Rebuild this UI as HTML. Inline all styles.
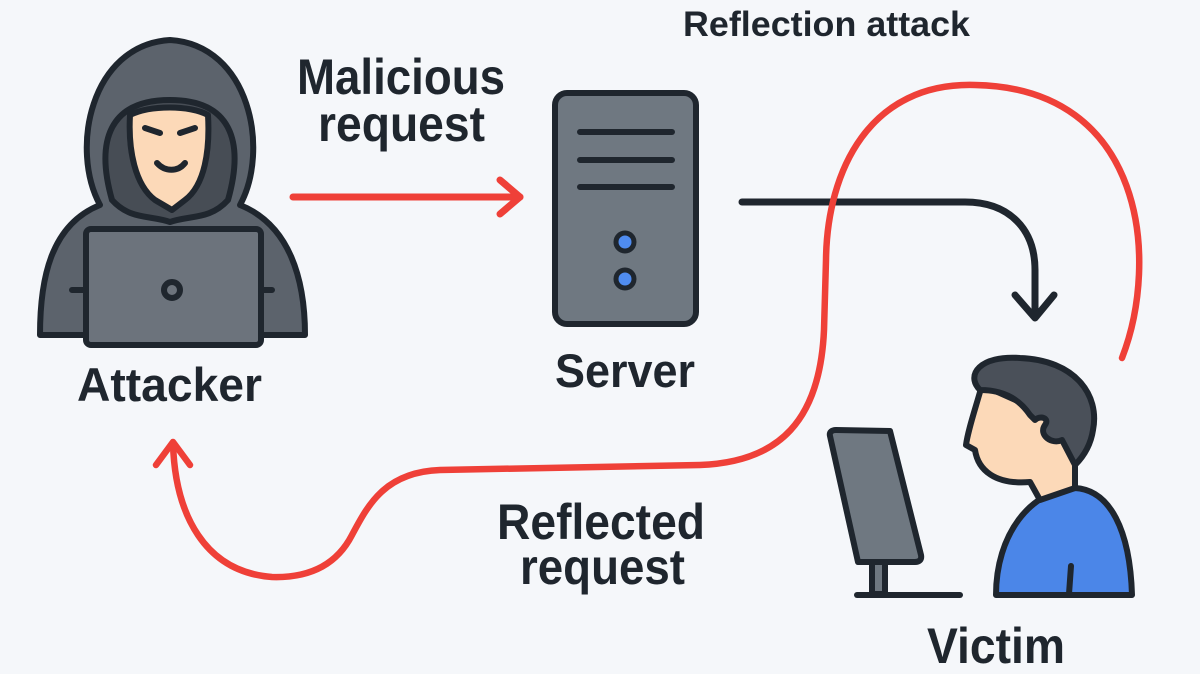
<!DOCTYPE html>
<html><head><meta charset="utf-8"><style>
html,body{margin:0;padding:0;background:#f5f7fa;}
svg{display:block;}
text{font-family:"Liberation Sans",sans-serif;font-weight:bold;fill:#1f262e;}
</style></head><body>
<svg width="1200" height="674" viewBox="0 0 1200 674" xmlns="http://www.w3.org/2000/svg">
<rect width="1200" height="674" fill="#f5f7fa"/>
<!-- labels -->
<text x="683" y="36" font-size="35" textLength="287" lengthAdjust="spacingAndGlyphs" fill="#000">Reflection attack</text>
<text x="297" y="94" font-size="50" textLength="208" lengthAdjust="spacingAndGlyphs">Malicious</text>
<text x="318" y="141" font-size="50" textLength="167" lengthAdjust="spacingAndGlyphs">request</text>
<text x="77" y="401" font-size="47" textLength="185" lengthAdjust="spacingAndGlyphs">Attacker</text>
<text x="555" y="387" font-size="47" textLength="140" lengthAdjust="spacingAndGlyphs">Server</text>
<text x="497" y="539" font-size="50" textLength="208" lengthAdjust="spacingAndGlyphs">Reflected</text>
<text x="520" y="584" font-size="50" textLength="165" lengthAdjust="spacingAndGlyphs">request</text>
<text x="927" y="663" font-size="50" textLength="138" lengthAdjust="spacingAndGlyphs">Victim</text>

<!-- attacker -->
<g stroke="#1f262e" stroke-width="6" stroke-linejoin="round" stroke-linecap="round">
<path d="M40,335 C40,280 50,225 100,205 C70,150 90,45 170,40 C250,45 270,150 240,205 C290,225 305,280 305,335 Z" fill="#5c636c"/>
<path d="M112,200 C95,140 110,100 170,100 C230,100 245,140 228,200 C210,220 190,215 170,222 C150,215 130,220 112,200Z" fill="#474d55"/>
<path d="M130,115 C150,105 190,105 208,115 C210,150 205,185 185,200 L172,210 L155,200 C135,185 128,150 130,115Z" fill="#fcd9b8"/>
<path d="M145,128 L160,133 M195,128 L180,133"/>
<path d="M157,163 C165,172 178,172 185,163" fill="none"/>
<rect x="86" y="229" width="175" height="116" rx="5" fill="#6c737c"/>
<circle cx="172" cy="290" r="8" fill="#6c737c"/>
<path d="M72,290 L86,290 M261,290 L272,290"/>
</g>

<!-- server -->
<g stroke="#1f262e" stroke-width="6" stroke-linecap="round">
<rect x="555" y="93" width="141" height="231" rx="12" fill="#6f7881"/>
<path d="M580,132 L672,132 M580,160 L672,160 M580,187 L672,187" stroke-width="6"/>
<circle cx="625" cy="242" r="9" fill="#4f8cf0" stroke-width="5"/>
<circle cx="625" cy="279" r="9" fill="#4f8cf0" stroke-width="5"/>
</g>

<!-- malicious arrow -->
<g stroke="#ef4038" stroke-width="7" fill="none" stroke-linecap="round" stroke-linejoin="round">
<path d="M293,197 L520,197"/>
<path d="M500,180 L520,197 L500,214"/>
</g>

<!-- dark arrow -->
<g stroke="#1f262e" stroke-width="7" fill="none" stroke-linecap="round" stroke-linejoin="round">
<path d="M742,202 L965,202 C1010,202 1035,230 1035,270 L1035,316"/>
<path d="M1015,295 L1035,318 L1054,295"/>
</g>

<!-- red reflected curve -->
<g stroke="#ef4038" stroke-width="6.5" fill="none" stroke-linecap="round" stroke-linejoin="round">
<path d="M1122,358 C1160,260 1145,88 975,85 C870,82 827,170 826,260 L824,330 C820,420 780,462 700,465 L440,470 C385,472 368,505 352,535 C335,568 305,578 272,577 C205,572 175,515 173,443"/>
<path d="M156,465 L173,442 L190,465"/>
</g>

<!-- victim -->
<g stroke="#1f262e" stroke-width="6" stroke-linejoin="round" stroke-linecap="round">
<path d="M830,436 C829,432 832,430 836,430 L890,431 L921,555 C922,560 919,562 915,562 L858,562 Z" fill="#6f7881"/>
<rect x="872" y="562" width="13" height="32" fill="#6f7881"/>
<path d="M857,595 L960,595"/>
<path d="M996,595 C996,535 1030,490 1075,488 C1110,490 1130,530 1132,595 Z" fill="#4b86e8"/>
<path d="M1071,566 L1069,594" fill="none"/>
<path d="M982,385 C975,410 968,430 966,445 L975,450 C978,470 995,485 1030,482 L1040,500 L1075,488 L1075,450 L1060,420 Z" fill="#fcd9b8"/>
<path d="M980,390 C965,375 980,355 1020,358 C1075,360 1100,395 1093,430 C1090,450 1078,462 1075,465 L1062,440 C1052,445 1038,435 1045,425 C1050,418 1040,415 1035,420 L1030,415 C1020,400 1005,390 980,390Z" fill="#4a5059"/>
</g>
</svg>
</body></html>
